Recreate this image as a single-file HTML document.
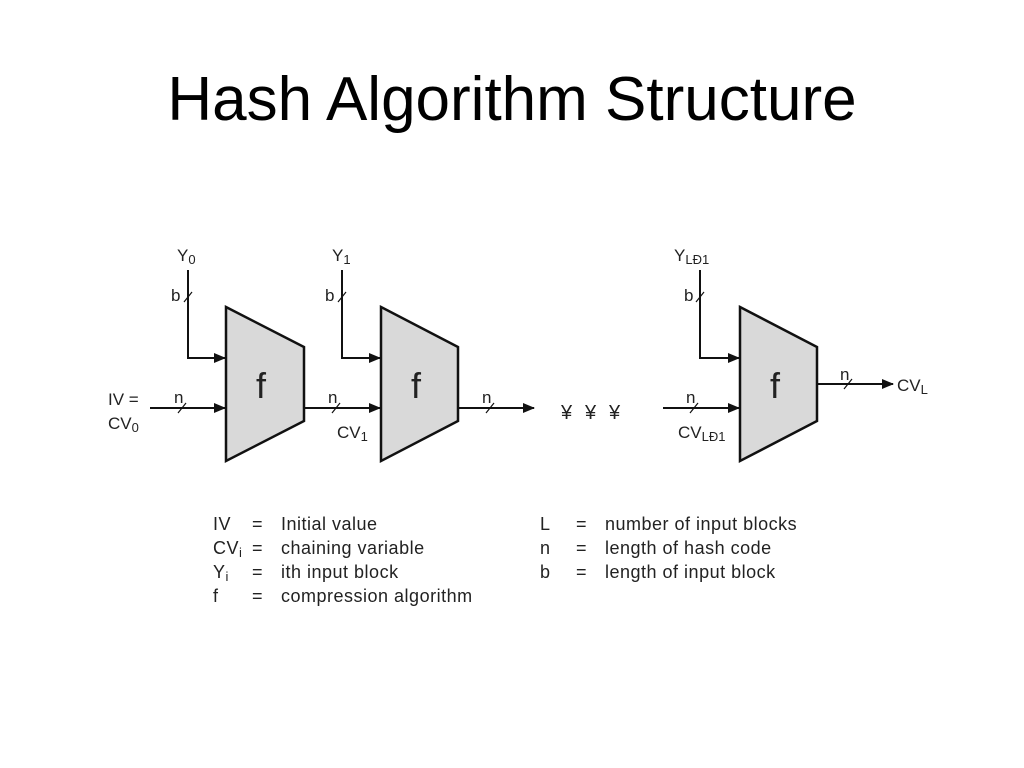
<!DOCTYPE html>
<html><head><meta charset="utf-8"><style>
html,body{margin:0;padding:0;background:#fff;width:1024px;height:768px;overflow:hidden}
</style></head><body>
<svg width="1024" height="768" xmlns="http://www.w3.org/2000/svg" font-family="'Liberation Sans', sans-serif">
<defs><marker id="a" markerWidth="12" markerHeight="10" refX="11" refY="5" orient="auto" markerUnits="userSpaceOnUse"><path d="M0,0 L12,5 L0,10 z" fill="#111"/></marker></defs>
<text x="512" y="120" font-size="62" text-anchor="middle" fill="#000">Hash Algorithm Structure</text>
<g stroke="#111" stroke-width="2.5" fill="#d9d9d9">
<polygon points="226,307 304,347 304,421 226,461"/>
<polygon points="381,307 458,347 458,421 381,461"/>
<polygon points="740,307 817,347 817,421 740,461"/>
</g>
<g stroke="#111" stroke-width="2" fill="none">
<polyline points="188,270 188,358 225,358" marker-end="url(#a)"/>
<polyline points="342,270 342,358 380,358" marker-end="url(#a)"/>
<polyline points="700,270 700,358 739,358" marker-end="url(#a)"/>
<line x1="150" y1="408" x2="225" y2="408" marker-end="url(#a)"/>
<line x1="304" y1="408" x2="380" y2="408" marker-end="url(#a)"/>
<line x1="458" y1="408" x2="534" y2="408" marker-end="url(#a)"/>
<line x1="663" y1="408" x2="739" y2="408" marker-end="url(#a)"/>
<line x1="817" y1="384" x2="893" y2="384" marker-end="url(#a)"/>
<g stroke-width="1.2">
<line x1="184" y1="302" x2="192" y2="292"/><line x1="338" y1="302" x2="346" y2="292"/><line x1="696" y1="302" x2="704" y2="292"/>
<line x1="178" y1="413" x2="186" y2="403"/><line x1="332" y1="413" x2="340" y2="403"/><line x1="486" y1="413" x2="494" y2="403"/><line x1="690" y1="413" x2="698" y2="403"/><line x1="844" y1="389" x2="852" y2="379"/>
</g></g>
<g font-size="17" fill="#222">
<text x="177" y="261">Y<tspan font-size="13" dy="3">0</tspan></text>
<text x="332" y="261">Y<tspan font-size="13" dy="3">1</tspan></text>
<text x="674" y="261">Y<tspan font-size="13" dy="3">LĐ1</tspan></text>
<text x="171" y="301">b</text><text x="325" y="301">b</text><text x="684" y="301">b</text>
<text x="174" y="403">n</text><text x="328" y="403">n</text><text x="482" y="403">n</text><text x="686" y="403">n</text><text x="840" y="380">n</text>
<text x="108" y="405">IV =</text>
<text x="108" y="429">CV<tspan font-size="13" dy="3">0</tspan></text>
<text x="337" y="438">CV<tspan font-size="13" dy="3">1</tspan></text>
<text x="678" y="438">CV<tspan font-size="13" dy="3">LĐ1</tspan></text>
<text x="897" y="391">CV<tspan font-size="13" dy="3">L</tspan></text>
</g>
<g font-size="20" fill="#222"><text x="561" y="419">¥</text><text x="585" y="419">¥</text><text x="609" y="419">¥</text></g>
<g font-size="36" fill="#222"><text x="256" y="398">f</text><text x="411" y="398">f</text><text x="770" y="398">f</text></g>
<g font-size="18" fill="#222" letter-spacing="0.5">
<text x="213" y="530">IV</text><text x="252" y="530">=</text><text x="281" y="530">Initial value</text>
<text x="213" y="554">CV<tspan font-size="13" dy="3">i</tspan></text><text x="252" y="554">=</text><text x="281" y="554">chaining variable</text>
<text x="213" y="578">Y<tspan font-size="13" dy="3">i</tspan></text><text x="252" y="578">=</text><text x="281" y="578">ith input block</text>
<text x="213" y="602">f</text><text x="252" y="602">=</text><text x="281" y="602">compression algorithm</text>
<text x="540" y="530">L</text><text x="576" y="530">=</text><text x="605" y="530">number of input blocks</text>
<text x="540" y="554">n</text><text x="576" y="554">=</text><text x="605" y="554">length of hash code</text>
<text x="540" y="578">b</text><text x="576" y="578">=</text><text x="605" y="578">length of input block</text>
</g>
</svg>
</body></html>
